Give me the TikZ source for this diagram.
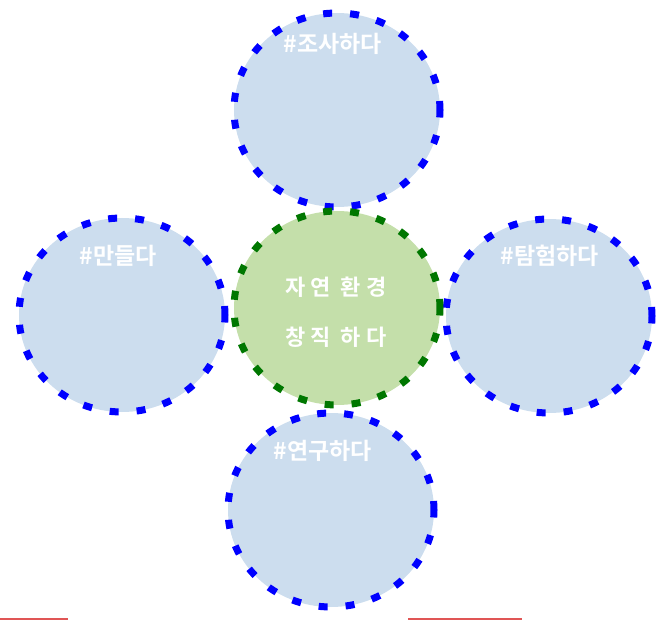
\documentclass[tikz,border=0pt]{standalone}
\usepackage{fontspec}
\newfontfamily\kr{Noto Sans CJK KR}[BoldFont={* Bold}]
\newfontfamily\krwide{Noto Sans CJK KR}[LetterSpace=22,BoldFont={* Bold}]
\usetikzlibrary{shapes.geometric}
\definecolor{bfill}{HTML}{CCDDEE}
\definecolor{gfill}{HTML}{C4DFAA}
\definecolor{bline}{HTML}{0000FF}
\definecolor{gline}{HTML}{007700}
\definecolor{rline}{HTML}{E05555}
\begin{document}
\begin{tikzpicture}[x=1pt,y=-1pt,
  bub/.style={ellipse, minimum width=206pt, minimum height=194pt, fill=bfill, draw=bline, line width=7pt, dash pattern=on 9pt off 18pt},
  core/.style={bub, fill=gfill, draw=gline},
  lbl/.style={text=white, font=\kr\bfseries\fontsize{23}{26}\selectfont}]
\path[use as bounding box] (0,0) rectangle (666,620);
\node[bub] (top) at (337,110) {};
\node[bub] (left) at (122,315) {};
\node[bub] (right) at (549,316) {};
\node[bub] (bottom) at (331,510) {};
\node[core] (center) at (337,308) {};
\node[lbl] (tl) at (333,44) {\#조사하다};
\node[lbl] (ll) at (118,256) {\#만들다};
\node[lbl] (rl) at (550,256) {\#탐험하다};
\node[lbl] (bl) at (323,451) {\#연구하다};
\node[lbl, font=\krwide\bfseries\fontsize{22}{50}\selectfont, align=center] (cl) at (336,312) {자연 환경\\창직 하다};
\draw[rline, line width=2pt] (0,619) -- (68,619);
\draw[rline, line width=2pt] (408,619) -- (522,619);
\end{tikzpicture}
\end{document}
